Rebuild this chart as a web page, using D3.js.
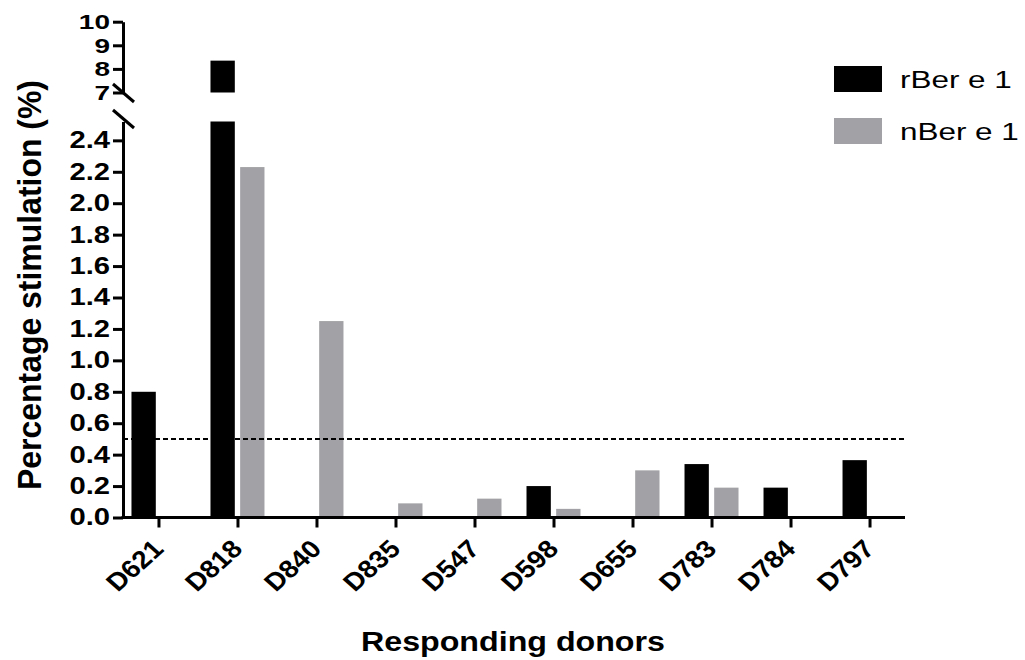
<!DOCTYPE html>
<html>
<head>
<meta charset="utf-8">
<script src="https://cdn.jsdelivr.net/npm/d3@7/dist/d3.min.js"></script>
<style>
  html, body { margin: 0; padding: 0; background: #fff; }
  svg { display: block; }
  text { font-family: "Liberation Sans", Arial, sans-serif; fill: #000; }
</style>
</head>
<body>
<svg id="chart" width="1025" height="660"></svg>
<script>
// Responding donors and the stimulation measured for each antigen
const donors = ["D621", "D818", "D840", "D835", "D547", "D598", "D655", "D783", "D784", "D797"];
const series = ["rBer e 1", "nBer e 1"];
const rBerValues = [0.80, 8.35, 0, 0, 0, 0.20, 0, 0.34, 0.19, 0.365];
const nBerValues = [0, 2.23, 1.25, 0.09, 0.12, 0.055, 0.30, 0.19, 0, 0];
const threshold = 0.5;
const lowerTicks = [0, 0.2, 0.4, 0.6, 0.8, 1.0, 1.2, 1.4, 1.6, 1.8, 2.0, 2.2, 2.4];
const upperTicks = [7, 8, 9, 10];
const lowerDomain = [0, 2.52];
const upperDomain = [7, 10];
const colors = { "rBer e 1": "#000000", "nBer e 1": "#a2a2a6" };

const svg = d3.select("#chart");

const axisX = 123, axisRight = 905, baseY = 517.5;
const x = d3.scalePoint().domain(donors).range([axisX, axisRight]).padding(0.449);
const x1 = d3.scaleBand().domain(series).range([-27, 27]).paddingInner(0.18);
const yLow = d3.scaleLinear().domain(lowerDomain).range([baseY, 121.5]);
const yUp = d3.scaleLinear().domain(upperDomain).range([92.5, 21.7]);

const rows = donors.map((d, i) => ({ donor: d, values: [
  { key: series[0], value: rBerValues[i] },
  { key: series[1], value: nBerValues[i] }
]}));

// bars: lower segment clipped at the axis break, upper segment above 7
const groups = svg.append("g").selectAll("g").data(rows).join("g")
  .attr("transform", d => `translate(${x(d.donor)},0)`);
groups.selectAll("rect.low").data(d => d.values.filter(v => v.value > 0)).join("rect")
  .attr("class", "low")
  .attr("x", v => x1(v.key))
  .attr("width", x1.bandwidth())
  .attr("y", v => yLow(Math.min(v.value, lowerDomain[1])))
  .attr("height", v => baseY - yLow(Math.min(v.value, lowerDomain[1])))
  .attr("fill", v => colors[v.key]);
groups.selectAll("rect.up").data(d => d.values.filter(v => v.value > upperDomain[0])).join("rect")
  .attr("class", "up")
  .attr("x", v => x1(v.key))
  .attr("width", x1.bandwidth())
  .attr("y", v => yUp(v.value))
  .attr("height", v => yUp(upperDomain[0]) - yUp(v.value))
  .attr("fill", v => colors[v.key]);

// dashed threshold line
svg.append("line")
  .attr("x1", axisX).attr("x2", axisRight)
  .attr("y1", yLow(threshold)).attr("y2", yLow(threshold))
  .attr("stroke", "#000").attr("stroke-width", 2)
  .attr("stroke-dasharray", "5,3");

function styleAxis(g, fontSize) {
  g.selectAll("path.domain").attr("stroke", "#000").attr("stroke-width", 3);
  g.selectAll(".tick line").attr("stroke", "#000").attr("stroke-width", 3);
  g.selectAll(".tick text")
    .attr("font-family", "Liberation Sans, Arial, sans-serif")
    .attr("font-weight", "bold")
    .attr("font-size", fontSize)
    .attr("fill", "#000");
}
// widen tick labels horizontally while keeping their right edge at the tick
function stretchTickText(g, sx) {
  g.selectAll(".tick text").each(function () {
    const t = d3.select(this);
    const tx = +t.attr("x") || 0;
    t.attr("x", 0).attr("transform", `translate(${tx},0) scale(${sx},1)`);
  });
}

// left axes (lower and upper part)
const gLow = svg.append("g").attr("transform", `translate(${axisX},0)`)
  .call(d3.axisLeft(yLow).tickValues(lowerTicks).tickFormat(d3.format(".1f")).tickSize(10).tickSizeOuter(0).tickPadding(3));
styleAxis(gLow, 23); stretchTickText(gLow, 1.27);
const gUp = svg.append("g").attr("transform", `translate(${axisX},0)`)
  .call(d3.axisLeft(yUp).tickValues(upperTicks).tickFormat(d3.format("d")).tickSize(10).tickSizeOuter(0).tickPadding(3));
styleAxis(gUp, 20); stretchTickText(gUp, 1.4);
gUp.selectAll(".tick text").attr("dy", "0.34em");

// axis break marks
[[axisX, yUp(upperDomain[0])], [axisX, yLow(lowerDomain[1]) - 3]].forEach(([cx, cy]) => {
  svg.append("line")
    .attr("x1", cx - 10).attr("y1", cy - 8.5)
    .attr("x2", cx + 11).attr("y2", cy + 9.5)
    .attr("stroke", "#000").attr("stroke-width", 3);
});

// bottom axis
const gX = svg.append("g").attr("transform", `translate(0,${baseY})`)
  .call(d3.axisBottom(x).tickSize(10).tickSizeOuter(0));
gX.select("path.domain").attr("d", `M${axisX - 1.5},0H${axisRight}`);
styleAxis(gX, 25);
gX.selectAll(".tick text")
  .attr("text-anchor", "end")
  .attr("dy", null)
  .attr("y", 0)
  .attr("transform", `translate(6,33) scale(1.12,1) rotate(-45)`);

// axis titles
svg.append("text")
  .attr("x", 513 / 1.15).attr("y", 651)
  .attr("transform", `scale(1.15,1)`)
  .attr("text-anchor", "middle")
  .attr("font-weight", "bold").attr("font-size", 28)
  .text("Responding donors");
svg.append("text")
  .attr("transform", `translate(41,285) scale(1.2,1) rotate(-90)`)
  .attr("text-anchor", "middle")
  .attr("font-weight", "bold").attr("font-size", 27)
  .attr("textLength", 410).attr("lengthAdjust", "spacingAndGlyphs")
  .text("Percentage stimulation (%)");

// legend
const legend = svg.append("g").selectAll("g").data(series).join("g")
  .attr("transform", (d, i) => `translate(834,${66 + i * 52})`);
legend.append("rect").attr("width", 48).attr("height", 26).attr("fill", d => colors[d]);
legend.append("text")
  .attr("transform", `translate(66,22) scale(1.31,1)`)
  .attr("font-size", 24)
  .text(d => d);
</script>
</body>
</html>
